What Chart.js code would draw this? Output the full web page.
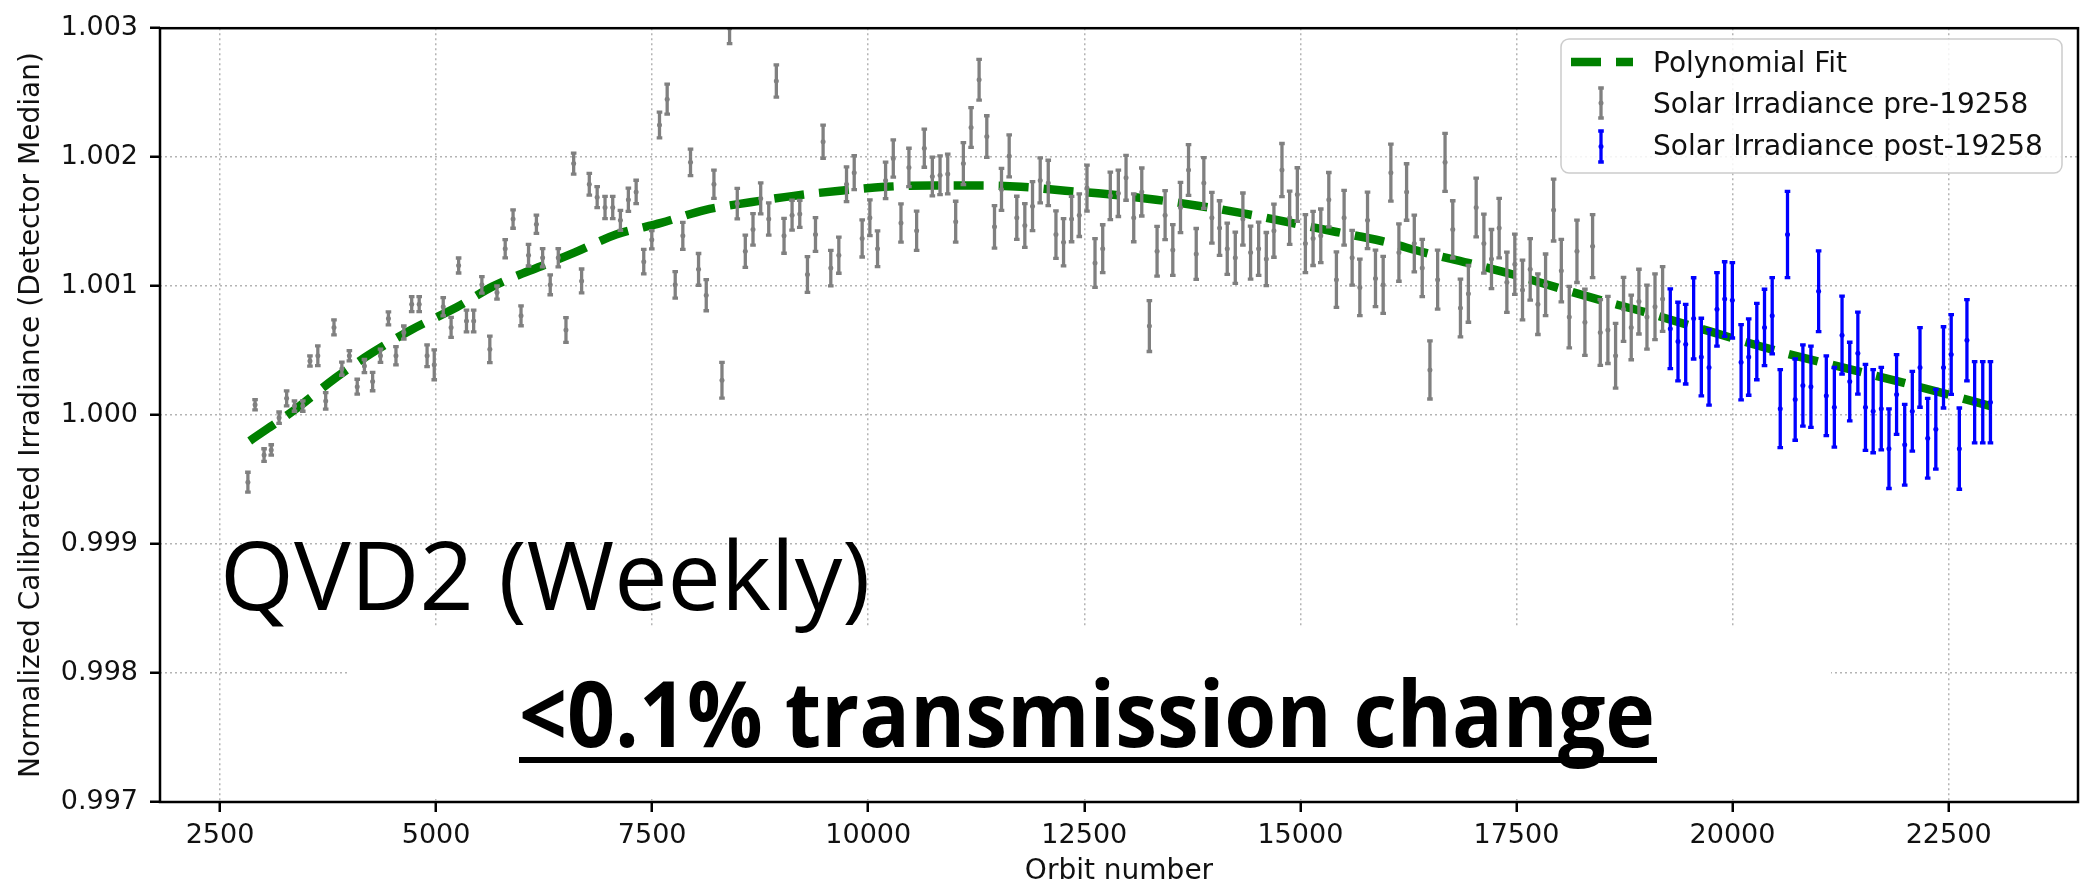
<!DOCTYPE html>
<html>
<head>
<meta charset="utf-8">
<script src="https://cdn.jsdelivr.net/npm/chart.js@4.4.1/dist/chart.umd.min.js"></script>
<style>
  html, body { margin: 0; padding: 0; background: #fff; }
  canvas { display: block; }
</style>
</head>
<body>
<canvas id="chart" width="2088" height="886"></canvas>
<script>
// QVD2 weekly solar irradiance (normalized detector median) vs orbit number

const preOrbit = [
  2823, 2906, 3010, 3093, 3184, 3271, 3362, 3458, 3541, 3632, 3723, 3819, 3910, 3997, 4088, 4171, 4266, 4357, 4449, 4536,
  4627, 4718, 4805, 4896, 4979, 5083, 5174, 5261, 5352, 5435, 5530, 5622, 5705, 5800, 5891, 5983, 6070, 6161,
  6233, 6321, 6414, 6503, 6592, 6684, 6773, 6864, 6955, 7044, 7133, 7225, 7315, 7403, 7496, 7585, 7674, 7767, 7855, 7944,
  8037, 8126, 8215, 8308, 8396, 8485, 8578, 8667, 8756, 8849, 8937, 9026, 9119, 9208, 9297, 9390, 9478, 9567, 9660, 9749,
  9838, 9930, 10019, 10108, 10201, 10290, 10379, 10471, 10560, 10649, 10742, 10831, 10920, 11012, 11101, 11190, 11283, 11372, 11461,
  11542, 11631, 11719, 11812, 11901, 11990, 12083, 12172, 12260, 12353, 12442, 12531, 12624, 12713, 12801, 12894, 12983, 13072, 13165, 13253,
  13342, 13435, 13524, 13613, 13706, 13795, 13883, 13976, 14065, 14154, 14247, 14335, 14424, 14517, 14606, 14694, 14787, 14876, 14965, 15058,
  15147, 15236, 15329, 15417, 15506, 15599, 15688, 15777, 15869, 15958, 16047, 16140, 16229, 16318, 16410, 16499, 16588,
  16674, 16763, 16852, 16944, 17034, 17123, 17211, 17300, 17389, 17481, 17570, 17659, 17748, 17837, 17930, 18019, 18111, 18200, 18292, 18381,
  18470, 18558, 18647, 18739, 18828, 18917, 19010, 19103, 19191
];
const preValue = [
  0.99948, 1.00008, 0.99969, 0.99973, 0.99998, 1.00013, 1.00007, 1.00007, 1.00042, 1.00046, 1.00011, 1.00068, 1.00036, 1.00046, 1.00022, 1.00038, 1.00026, 1.00046, 1.00075, 1.00046,
  1.00064, 1.00086, 1.00086, 1.00046, 1.00039, 1.00084, 1.00068, 1.00116, 1.00073, 1.00073, 1.00101, 1.00051, 1.00095, 1.00129, 1.00152, 1.00077, 1.00124, 1.00148,
  1.00122, 1.00101, 1.00122, 1.00066, 1.00195, 1.00104, 1.00179, 1.00169, 1.00161, 1.00161, 1.00151, 1.00167, 1.00173, 1.00119, 1.00136, 1.00225, 1.00245, 1.00101, 1.00139, 1.00196,
  1.00113, 1.00093, 1.00179, 1.00027, 1.00300, 1.00164, 1.00127, 1.00144, 1.00168, 1.00152, 1.00259, 1.00139, 1.00155, 1.00156, 1.00109, 1.00140, 1.00212, 1.00114, 1.00124, 1.00179,
  1.00188, 1.00137, 1.00153, 1.00129, 1.00182, 1.00199, 1.00149, 1.00192, 1.00143, 1.00207, 1.00185, 1.00186, 1.00187, 1.00150, 1.00195, 1.00223, 1.00260, 1.00216, 1.00146,
  1.00175, 1.00201, 1.00153, 1.00147, 1.00162, 1.00182, 1.00180, 1.00140, 1.00134, 1.00152, 1.00155, 1.00176, 1.00118, 1.00129, 1.00170, 1.00172, 1.00184, 1.00153, 1.00173, 1.00069,
  1.00127, 1.00155, 1.00128, 1.00161, 1.00190, 1.00125, 1.00180, 1.00153, 1.00145, 1.00129, 1.00122, 1.00152, 1.00126, 1.00129, 1.00121, 1.00143, 1.00190, 1.00153, 1.00171, 1.00133,
  1.00137, 1.00139, 1.00167, 1.00105, 1.00153, 1.00122, 1.00099, 1.00151, 1.00106, 1.00101, 1.00188, 1.00126, 1.00173, 1.00133, 1.00114, 1.00035, 1.00105,
  1.00196, 1.00144, 1.00083, 1.00094, 1.00161, 1.00133, 1.00121, 1.00145, 1.00103, 1.00117, 1.00097, 1.00113, 1.00086, 1.00101, 1.00159, 1.00112, 1.00076, 1.00127, 1.00072, 1.00131,
  1.00064, 1.00066, 1.00046, 1.00082, 1.00068, 1.00088, 1.00076, 1.00084, 1.00090
];
const preError = [
  0.000077, 0.000040, 0.000049, 0.000040, 0.000044, 0.000058, 0.000040, 0.000040, 0.000040, 0.000077, 0.000064, 0.000058, 0.000051, 0.000040, 0.000058, 0.000051, 0.000071, 0.000051, 0.000051, 0.000071,
  0.000051, 0.000058, 0.000058, 0.000084, 0.000116, 0.000071, 0.000077, 0.000058, 0.000084, 0.000084, 0.000064, 0.000103, 0.000051, 0.000071, 0.000071, 0.000077, 0.000084, 0.000071,
  0.000071, 0.000077, 0.000071, 0.000096, 0.000081, 0.000093, 0.000084, 0.000082, 0.000086, 0.000086, 0.000077, 0.000090, 0.000091, 0.000095, 0.000071, 0.000100, 0.000116, 0.000103, 0.000105, 0.000103,
  0.000123, 0.000121, 0.000109, 0.000139, 0.000120, 0.000118, 0.000125, 0.000122, 0.000120, 0.000125, 0.000125, 0.000135, 0.000116, 0.000105, 0.000139, 0.000131, 0.000129, 0.000138, 0.000140, 0.000135,
  0.000131, 0.000144, 0.000139, 0.000139, 0.000141, 0.000144, 0.000148, 0.000149, 0.000152, 0.000148, 0.000150, 0.000150, 0.000154, 0.000158, 0.000163, 0.000154, 0.000158, 0.000161, 0.000165,
  0.000163, 0.000163, 0.000167, 0.000170, 0.000190, 0.000174, 0.000176, 0.000184, 0.000183, 0.000176, 0.000165, 0.000179, 0.000189, 0.000186, 0.000184, 0.000180, 0.000174, 0.000186, 0.000186, 0.000197,
  0.000193, 0.000190, 0.000197, 0.000195, 0.000197, 0.000197, 0.000197, 0.000197, 0.000212, 0.000199, 0.000199, 0.000202, 0.000206, 0.000206, 0.000206, 0.000206, 0.000206, 0.000206, 0.000208, 0.000225,
  0.000210, 0.000208, 0.000211, 0.000215, 0.000212, 0.000212, 0.000219, 0.000219, 0.000219, 0.000221, 0.000221, 0.000222, 0.000219, 0.000220, 0.000222, 0.000225, 0.000229,
  0.000225, 0.000222, 0.000224, 0.000220, 0.000228, 0.000229, 0.000229, 0.000231, 0.000234, 0.000234, 0.000231, 0.000238, 0.000235, 0.000239, 0.000240, 0.000242, 0.000238, 0.000242, 0.000257, 0.000244,
  0.000255, 0.000260, 0.000251, 0.000248, 0.000251, 0.000251, 0.000248, 0.000255, 0.000251
];

const postOrbit = [
  19280, 19369, 19458, 19550, 19639, 19728, 19820, 19909, 19998, 20099, 20187, 20281, 20370, 20459, 20552, 20636, 20725, 20814, 20907, 20996,
  21085, 21178, 21267, 21356, 21450, 21538, 21627, 21721, 21810, 21898, 21992, 22080, 22169, 22258, 22352, 22441, 22530, 22624, 22712, 22801,
  22895, 22984
];
const postValue = [
  1.00067, 1.00057, 1.00055, 1.00075, 1.00045, 1.00037, 1.00082, 1.00090, 1.00089, 1.00041, 1.00045, 1.00057, 1.00068, 1.00077, 1.00005, 1.00140, 1.00012, 1.00023, 1.00022, 1.00096,
  1.00015, 1.00006, 1.00062, 1.00026, 1.00048, 1.00006, 1.00003, 1.00005, 0.99974, 1.00016, 0.99977, 1.00003, 1.00037, 0.99982, 0.99989, 1.00037, 1.00047, 0.99974, 1.00058, 1.00010,
  1.00010, 1.00010
];
const postError = [
  0.000309, 0.000305, 0.000309, 0.000315, 0.000301, 0.000293, 0.000285, 0.000289, 0.000292, 0.000292, 0.000296, 0.000296, 0.000296, 0.000296, 0.000302, 0.000334, 0.000315, 0.000315, 0.000315, 0.000313,
  0.000309, 0.000309, 0.000302, 0.000305, 0.000318, 0.000334, 0.000322, 0.000320, 0.000309, 0.000309, 0.000313, 0.000309, 0.000309, 0.000309, 0.000309, 0.000315, 0.000309, 0.000315, 0.000315, 0.000315,
  0.000315, 0.000315
];

const fitOrbit = [
  2844, 3383, 3839, 4254, 4710, 5249, 5663, 6271, 6600, 7083, 7604, 8107, 8636, 9138, 9672, 10193, 10723, 11248, 11766,
  12280, 12809, 13331, 13852, 14374, 14896, 15417, 15939, 16441, 16941, 17461, 17963, 18481, 18978, 19482, 20503, 21514, 22549, 22984
];
const fitValue = [
  0.99980, 1.00005, 1.00029, 1.00048, 1.00066, 1.00084, 1.00100, 1.00117, 1.00126, 1.00140, 1.00149, 1.00159, 1.00165, 1.00170, 1.00174, 1.00177, 1.00178, 1.00178, 1.00177,
  1.00174, 1.00171, 1.00167, 1.00162, 1.00156, 1.00149, 1.00142, 1.00135, 1.00126, 1.00118, 1.00109, 1.00099, 1.00089, 1.00080, 1.00070, 1.00050, 1.00033, 1.00015, 1.00007
];

const xTicks = [2500, 5000, 7500, 10000, 12500, 15000, 17500, 20000, 22500];
const yTicks = [0.997, 0.998, 0.999, 1.000, 1.001, 1.002, 1.003];

const TEXT = '#111111';
const AXIS_FONT = 'DejaVu Sans';
const BAR_WIDTH = 3.3;
const CAP_HALF = 2.8;

const toPoints = (xs, ys) => xs.map((x, i) => ({ x, y: ys[i] }));

// vertical error bars with caps, drawn right after each scatter dataset
const errorBars = {
  id: 'errorBars',
  afterDatasetDraw(chart, args) {
    const ds = chart.data.datasets[args.index];
    if (!ds.errors) return;
    const { ctx, chartArea: a, scales: { x, y } } = chart;
    ctx.save();
    ctx.beginPath();
    ctx.rect(a.left, a.top, a.right - a.left, a.bottom - a.top);
    ctx.clip();
    ctx.strokeStyle = ds.borderColor;
    ctx.lineWidth = BAR_WIDTH;
    ds.data.forEach((p, i) => {
      const px = x.getPixelForValue(p.x);
      const lo = y.getPixelForValue(p.y - ds.errors[i]);
      const hi = y.getPixelForValue(p.y + ds.errors[i]);
      ctx.beginPath();
      ctx.moveTo(px, lo); ctx.lineTo(px, hi);
      ctx.moveTo(px - CAP_HALF, lo); ctx.lineTo(px + CAP_HALF, lo);
      ctx.moveTo(px - CAP_HALF, hi); ctx.lineTo(px + CAP_HALF, hi);
      ctx.stroke();
    });
    ctx.restore();
  }
};

function roundRectPath(ctx, x, y, w, h, r) {
  ctx.beginPath();
  ctx.moveTo(x + r, y);
  ctx.arcTo(x + w, y, x + w, y + h, r);
  ctx.arcTo(x + w, y + h, x, y + h, r);
  ctx.arcTo(x, y + h, x, y, r);
  ctx.arcTo(x, y, x + w, y, r);
  ctx.closePath();
}

function drawErrorGlyph(ctx, cx, top, bottom, color) {
  ctx.strokeStyle = color;
  ctx.lineWidth = BAR_WIDTH;
  ctx.beginPath();
  ctx.moveTo(cx, top); ctx.lineTo(cx, bottom);
  ctx.moveTo(cx - CAP_HALF, top); ctx.lineTo(cx + CAP_HALF, top);
  ctx.moveTo(cx - CAP_HALF, bottom); ctx.lineTo(cx + CAP_HALF, bottom);
  ctx.stroke();
  ctx.fillStyle = color;
  ctx.beginPath();
  ctx.arc(cx, (top + bottom) / 2, 2.5, 0, Math.PI * 2);
  ctx.fill();
}

// white panel behind the note, frame, legend and the big captions
const frameAndNotes = {
  id: 'frameAndNotes',
  beforeDatasetsDraw(chart) {
    const { ctx } = chart;
    ctx.save();
    ctx.fillStyle = '#ffffff';
    ctx.fillRect(347, 627, 1484, 172);
    ctx.restore();
  },
  afterDraw(chart) {
    const { ctx, chartArea: a } = chart;
    const sets = chart.data.datasets;
    ctx.save();

    ctx.strokeStyle = '#000000';
    ctx.lineWidth = 2.5;
    ctx.strokeRect(a.left, a.top, a.right - a.left, a.bottom - a.top);

    // legend
    roundRectPath(ctx, 1561, 39, 501, 134, 8);
    ctx.fillStyle = 'rgba(255,255,255,0.85)';
    ctx.fill();
    ctx.strokeStyle = '#cccccc';
    ctx.lineWidth = 1.5;
    ctx.stroke();

    ctx.strokeStyle = sets[0].borderColor;
    ctx.lineWidth = sets[0].borderWidth;
    ctx.setLineDash(sets[0].borderDash);
    ctx.beginPath();
    ctx.moveTo(1571, 62); ctx.lineTo(1633, 62);
    ctx.stroke();
    ctx.setLineDash([]);

    drawErrorGlyph(ctx, 1601, 88, 118, sets[1].borderColor);
    drawErrorGlyph(ctx, 1601, 131, 162, sets[2].borderColor);

    ctx.fillStyle = TEXT;
    ctx.font = '28px "' + AXIS_FONT + '"';
    ctx.textAlign = 'left';
    ctx.textBaseline = 'alphabetic';
    ctx.fillText(sets[0].label, 1653, 72);
    ctx.fillText(sets[1].label, 1653, 113);
    ctx.fillText(sets[2].label, 1653, 155);

    // captions
    ctx.fillStyle = '#000000';
    ctx.font = '95px "Open Sans"';
    ctx.fillText('QVD2 (Weekly)', 220, 610, 652);
    ctx.font = 'bold 91px "Open Sans"';
    ctx.fillText('<0.1% transmission change', 519, 747, 1136);
    ctx.fillRect(519, 757, 1138, 6);

    ctx.restore();
  }
};

function build() {
  new Chart(document.getElementById('chart'), {
    type: 'scatter',
    data: {
      datasets: [
        {
          label: 'Polynomial Fit',
          data: toPoints(fitOrbit, fitValue),
          showLine: true,
          borderColor: '#008000',
          borderWidth: 8.5,
          borderDash: [30, 15],
          borderCapStyle: 'butt',
          cubicInterpolationMode: 'monotone',
          pointRadius: 0,
          order: 1
        },
        {
          label: 'Solar Irradiance pre-19258',
          data: toPoints(preOrbit, preValue),
          errors: preError,
          borderColor: '#808080',
          backgroundColor: '#808080',
          pointRadius: 2.5,
          borderWidth: 0,
          clip: 0,
          order: 0
        },
        {
          label: 'Solar Irradiance post-19258',
          data: toPoints(postOrbit, postValue),
          errors: postError,
          borderColor: '#0000ff',
          backgroundColor: '#0000ff',
          pointRadius: 2.5,
          borderWidth: 0,
          clip: 0,
          order: 0
        }
      ]
    },
    options: {
      responsive: false,
      animation: false,
      devicePixelRatio: 1,
      layout: { padding: { top: 24, right: 10, left: 0, bottom: 0 } },
      plugins: { legend: { display: false }, tooltip: { enabled: false } },
      scales: {
        x: {
          type: 'linear',
          min: 1806,
          max: 23997,
          afterBuildTicks: s => { s.ticks = xTicks.map(v => ({ value: v })); },
          afterFit: s => { s.height = 84; },
          grid: { color: '#b4b4b4', lineWidth: 1.5, tickLength: 10, tickColor: '#000000', tickWidth: 2.5, tickBorderDash: [] },
          border: { display: false, dash: [2, 3] },
          ticks: {
            font: { family: AXIS_FONT, size: 27 },
            color: TEXT,
            padding: 8,
            maxRotation: 0,
            autoSkip: false,
            callback: v => String(v)
          },
          title: {
            display: true,
            text: 'Orbit number',
            font: { family: AXIS_FONT, size: 28, lineHeight: 1 },
            color: TEXT,
            padding: { top: 0, bottom: 0 }
          }
        },
        y: {
          min: 0.997,
          max: 1.003,
          afterBuildTicks: s => { s.ticks = yTicks.map(v => ({ value: v })); },
          afterFit: s => { s.width = 160; },
          grid: { color: '#b4b4b4', lineWidth: 1.5, tickLength: 10, tickColor: '#000000', tickWidth: 2.5, tickBorderDash: [] },
          border: { display: false, dash: [2, 3] },
          ticks: {
            font: { family: AXIS_FONT, size: 27 },
            color: TEXT,
            padding: 12,
            callback: v => Number(v).toFixed(3)
          },
          title: {
            display: true,
            text: 'Normalized Calibrated Irradiance (Detector Median)',
            font: { family: AXIS_FONT, size: 28, lineHeight: 1 },
            color: TEXT,
            padding: { top: 18, bottom: 0 }
          }
        }
      }
    },
    plugins: [errorBars, frameAndNotes]
  });
}

Promise.all([
  document.fonts.load('95px "Open Sans"'),
  document.fonts.load('bold 91px "Open Sans"'),
  document.fonts.load('28px "DejaVu Sans"')
]).then(build, build);
</script>
</body>
</html>
